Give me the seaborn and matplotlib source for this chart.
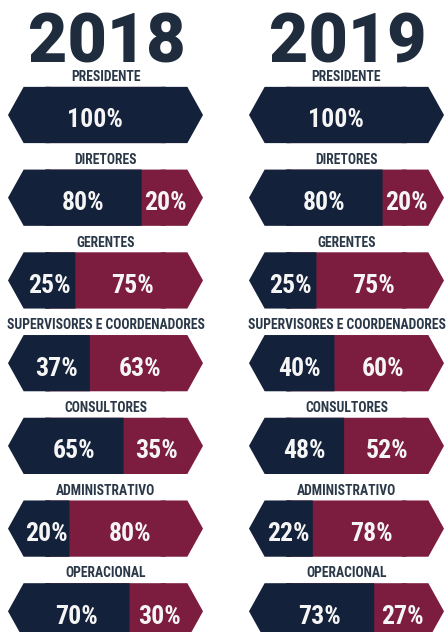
import numpy as np
import pandas as pd
import seaborn as sns
import matplotlib.pyplot as plt
from matplotlib.patches import Polygon

roles = ['PRESIDENTE', 'DIRETORES', 'GERENTES', 'SUPERVISORES E COORDENADORES',
         'CONSULTORES', 'ADMINISTRATIVO', 'OPERACIONAL']
years = ['2018', '2019']
dark_2018 = [100, 80, 25, 37, 65, 20, 70]
red_2018 = [0, 20, 75, 63, 35, 80, 30]
dark_2019 = [100, 80, 25, 40, 48, 22, 73]
red_2019 = [0, 20, 75, 60, 52, 78, 27]

navy = '#13213a'
maroon = '#7c1c3e'
title_color = '#1f2c3d'
label_color = '#2a3848'
text_color = '#f5f5f5'

sns.set_theme(style='white')
cond = ['Roboto Condensed', 'DejaVu Sans']
plt.rcParams['font.family'] = cond

# bar shape: flat part runs from -flat to 100+flat, points stick out to -tip / 100+tip
flat = 18
tip = 31
bar_h = 0.68


def draw_year(ax, year, dark, red):
    df = pd.DataFrame({'role': roles, 'dark': dark, 'total': np.array(dark) + np.array(red)})
    sns.barplot(data=df, x='total', y='role', color=maroon, width=bar_h, saturation=1,
                errorbar=None, linewidth=0, ax=ax)
    sns.barplot(data=df, x='dark', y='role', color=navy, width=bar_h, saturation=1,
                errorbar=None, linewidth=0, ax=ax)
    for p in ax.patches:
        p.set_snap(False)

    # pointed ends, laid over the bar ends so no seam shows
    h = bar_h / 2
    for i, (d, r) in enumerate(zip(dark, red)):
        left = Polygon([(-tip, i), (-flat, i - h), (4, i - h), (4, i + h), (-flat, i + h)],
                       closed=True, color=navy, lw=0, zorder=2, snap=False)
        right_c = maroon if r > 0 else navy
        right = Polygon([(96, i - h), (100 + flat, i - h), (100 + tip, i),
                         (100 + flat, i + h), (96, i + h)],
                        closed=True, color=right_c, lw=0, zorder=2, snap=False)
        ax.add_patch(left)
        ax.add_patch(right)

        ax.text(50, i - 0.41, roles[i], ha='center', va='baseline', fontsize=9.8,
                fontweight='bold', color=label_color)
        ax.text((d - 18) / 2, i + 0.15, f'{d}%', ha='center', va='baseline',
                fontsize=18.5, fontweight='bold', color=text_color, zorder=3)
        if r > 0:
            ax.text((d + 120) / 2, i + 0.15, f'{r}%', ha='center', va='baseline',
                    fontsize=18.5, fontweight='bold', color=text_color, zorder=3)

    ax.text(51, -0.63, year, ha='center', va='baseline', fontsize=49,
            fontweight='black', family=['Roboto', 'DejaVu Sans'], color=title_color)

    ax.set_xlim(-tip, 100 + tip)
    ax.set_ylim(6.25, -1.39)
    ax.axis('off')


fig = plt.figure(figsize=(4.48, 6.32), dpi=100)
ax1 = fig.add_axes([8 / 448, 0, 195 / 448, 1])
ax2 = fig.add_axes([249 / 448, 0, 195 / 448, 1])

draw_year(ax1, years[0], dark_2018, red_2018)
draw_year(ax2, years[1], dark_2019, red_2019)

fig.savefig('out.png', dpi=100, facecolor='white')
